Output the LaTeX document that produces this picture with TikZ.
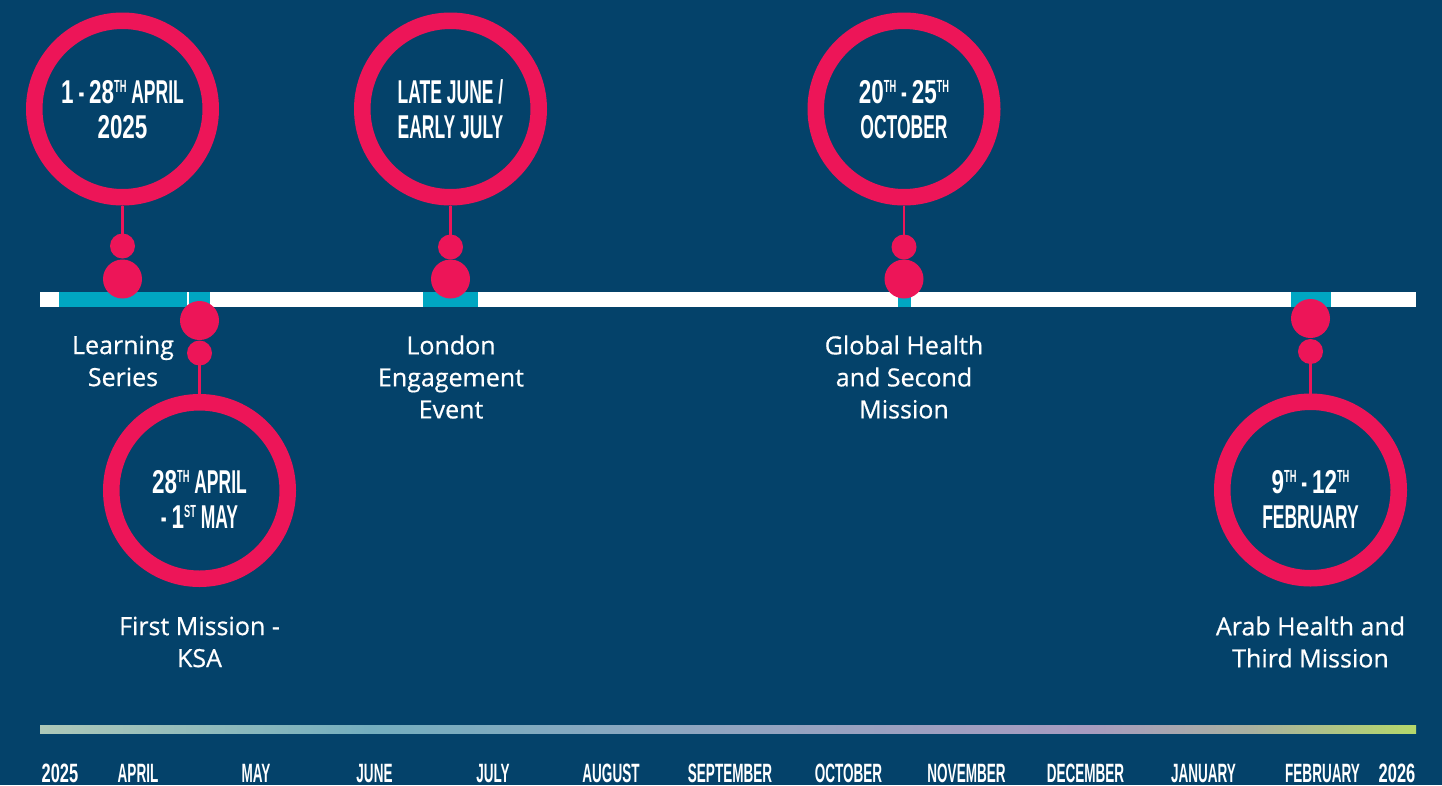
\documentclass[tikz,border=0pt]{standalone}
\usepackage{fontspec}
\setmainfont[FakeBold=0.6]{Open Sans}
\newfontfamily\condfont[FakeStretch=0.53]{Liberation Sans Bold}
\newfontfamily\conddig[FakeStretch=0.68]{Liberation Sans Bold}
\newfontfamily\monthfont[FakeStretch=0.51]{Liberation Sans Bold}
\newfontfamily\monthdig[FakeStretch=0.62]{Liberation Sans Bold}
\newcommand\supx[1]{\raisebox{0.33em}{\fontsize{17.5}{17.5}\selectfont #1}}
\newcommand\dg[1]{{\conddig #1}}
\definecolor{bgblue}{RGB}{4,66,106}
\definecolor{pinkc}{RGB}{237,21,88}
\definecolor{tealc}{RGB}{0,166,194}
\definecolor{g0}{RGB}{174,200,184}
\definecolor{g1}{RGB}{116,174,191}
\definecolor{g2}{RGB}{143,165,192}
\definecolor{g3}{RGB}{167,155,192}
\definecolor{g4}{RGB}{168,176,160}
\definecolor{g5}{RGB}{181,216,107}
\pgfdeclarehorizontalshading{tlgrad}{100bp}{color(0bp)=(g0); color(25bp)=(g0); color(37bp)=(g1); color(49bp)=(g2); color(63bp)=(g3); color(69bp)=(g4); color(75bp)=(g5); color(100bp)=(g5)}
\tikzset{
  ring/.style={circle, draw=pinkc, line width=16.5pt, minimum size=176.5pt, inner sep=0pt},
  bigdot/.style={circle, fill=pinkc, minimum size=39pt, inner sep=0pt},
  smalldot/.style={circle, fill=pinkc, minimum size=25pt, inner sep=0pt},
  stem/.style={draw=pinkc, line width=2.7pt},
  datetext/.style={text=white, font=\condfont\fontsize{33}{35}\selectfont, align=center, inner sep=0pt},
  evtlabel/.style={text=white, font=\fontsize{25}{32}\selectfont, align=center, inner sep=0pt},
  monthlbl/.style={text=white, font=\monthfont\fontsize{26.5}{26.5}\selectfont, anchor=base, inner sep=0pt},
  seg/.style={fill=tealc, draw=none}
}
\begin{document}
\begin{tikzpicture}[x=1pt,y=-1pt]
\useasboundingbox (0,0) rectangle (1442,785);
\fill[bgblue] (0,0) rectangle (1442,785);
% gradient bar
\shade[shading=tlgrad] (40,725) rectangle (1416,733);
% timeline
\fill[white] (40,291.5) rectangle (1416,306.5);
\fill[seg] (59,291.5) rectangle (187,306.5);
\fill[seg] (188.5,291.5) rectangle (210,306.5);
\fill[seg] (423,291.5) rectangle (478,306.5);
\fill[seg] (898,291.5) rectangle (911,306.5);
\fill[seg] (1291,291.5) rectangle (1331,306.5);
% top events
\node[ring] (r1) at (122.5,109) {};
\node[smalldot] (s1) at (122.5,246) {};
\node[bigdot] (b1) at (122.5,279) {};
\node[ring] (r2) at (450.5,109) {};
\node[smalldot] (s2) at (450.5,247) {};
\node[bigdot] (b2) at (450.5,279) {};
\node[ring] (r3) at (904,109) {};
\node[smalldot] (s3) at (904,247) {};
\node[bigdot] (b3) at (904,279) {};
% bottom events
\node[ring] (r4) at (199.5,490.5) {};
\node[bigdot] (b4) at (199.5,320.5) {};
\node[smalldot] (s4) at (199.5,353) {};
\node[ring] (r5) at (1310.5,490) {};
\node[bigdot] (b5) at (1310.5,318.5) {};
\node[smalldot] (s5) at (1310.5,351.5) {};
% stems
\draw[stem] (r1.south) -- (s1.center);
\draw[stem] (r2.south) -- (s2.center);
\draw[stem] (r3.south) -- (s3.center);
\draw[stem] (s4.center) -- (r4.north);
\draw[stem] (s5.center) -- (r5.north);
% date texts
\node[datetext] (d1) at (122.5,109.5) {\dg{1} - \dg{28}\supx{TH} APRIL\\\dg{2025}};
\node[datetext] (d2) at (450.5,109.5) {LATE JUNE /\\EARLY JULY};
\node[datetext] (d3) at (904,109.5) {\dg{20}\supx{TH} - \dg{25}\supx{TH}\\OCTOBER};
\node[datetext] (d4) at (199.5,499.5) {\dg{28}\supx{TH} APRIL\\- \dg{1}\supx{ST} MAY};
\node[datetext] (d5) at (1310.5,499.5) {\dg{9}\supx{TH} - \dg{12}\supx{TH}\\FEBRUARY};
% event labels
\node[evtlabel] (l1) at (123,361) {Learning\\Series};
\node[evtlabel] (l2) at (451,377) {London\\Engagement\\Event};
\node[evtlabel] (l3) at (904,377) {Global Health\\and Second\\Mission};
\node[evtlabel] (l4) at (199.5,642) {First Mission -\\KSA};
\node[evtlabel] (l5) at (1310.5,642) {Arab Health and\\Third Mission};
% months
\node[monthlbl] (m0) at (60,782) {\monthdig 2025};
\node[monthlbl] (m1) at (138,782) {APRIL};
\node[monthlbl] (m2) at (256,782) {MAY};
\node[monthlbl] (m3) at (374.5,782) {JUNE};
\node[monthlbl] (m4) at (493,782) {JULY};
\node[monthlbl] (m5) at (611,782) {AUGUST};
\node[monthlbl] (m6) at (730,782) {SEPTEMBER};
\node[monthlbl] (m7) at (848.5,782) {OCTOBER};
\node[monthlbl] (m8) at (966.5,782) {NOVEMBER};
\node[monthlbl] (m9) at (1085.5,782) {DECEMBER};
\node[monthlbl] (m10) at (1203.5,782) {JANUARY};
\node[monthlbl] (m11) at (1322.5,782) {FEBRUARY};
\node[monthlbl] (m12) at (1397,782) {\monthdig 2026};
\end{tikzpicture}
\end{document}
